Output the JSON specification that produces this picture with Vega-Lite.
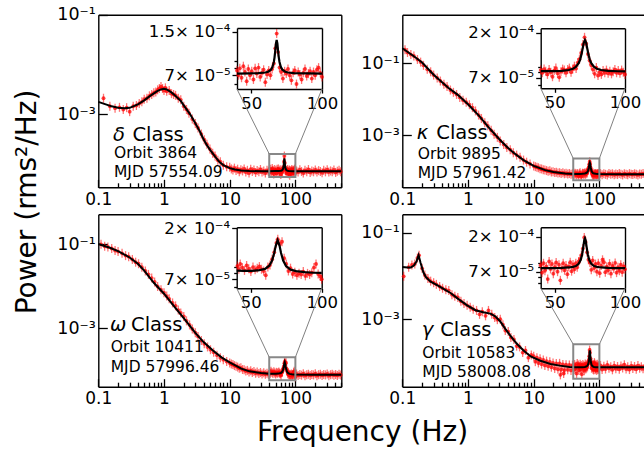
{
"$schema":"https://vega.github.io/schema/vega-lite/v6.json",
"width":644,"height":450,"autosize":"none","padding":0,
"config":{"view":{"stroke":null},"font":"DejaVu Sans","axis":{"grid":false,"domainColor":"black","domainWidth":1.4,"tickColor":"black","tickWidth":1.3,"labelColor":"black","labelFontSize":17,"labelFlush":false,"labelOverlap":false,"labelBound":false,"titleColor":"black","titleFontWeight":"normal"}},
"resolve":{"scale":{"x":"independent","y":"independent"},"axis":{"x":"independent","y":"independent"}},
"datasets":{
"d1":[{"f":0.12,"p":2.1e-3},{"f":0.15,"p":1.45e-3},{"f":0.18,"p":1.33e-3},{"f":0.21,"p":1.38e-3},{"f":0.24,"p":1.25e-3},{"f":0.27,"p":1.36e-3},{"f":0.3,"p":1.13e-3},{"f":0.34,"p":1.45e-3},{"f":0.38,"p":1.5e-3},{"f":0.42,"p":1.65e-3},{"f":0.46,"p":1.78e-3},{"f":0.5,"p":2.0e-3},{"f":0.55,"p":2.1e-3},{"f":0.6,"p":2.35e-3},{"f":0.65,"p":2.5e-3},{"f":0.7,"p":2.7e-3},{"f":0.75,"p":2.8e-3},{"f":0.8,"p":3.1e-3},{"f":0.85,"p":3.3e-3},{"f":0.9,"p":3.6e-3},{"f":0.95,"p":3.3e-3},{"f":1.0,"p":3.0e-3},{"f":1.05,"p":3.4e-3},{"f":1.1,"p":2.9e-3},{"f":1.2,"p":3.0e-3},{"f":1.3,"p":2.6e-3},{"f":1.4,"p":2.5e-3},{"f":1.5,"p":2.4e-3},{"f":1.65,"p":2.1e-3},{"f":1.8,"p":1.95e-3},{"f":2.0,"p":1.45e-3},{"f":2.2,"p":1.25e-3},{"f":2.4,"p":1.05e-3},{"f":2.7,"p":8.0e-4},{"f":3.0,"p":6.5e-4},{"f":3.3,"p":5.3e-4},{"f":3.7,"p":4.0e-4},{"f":4.1,"p":3.1e-4},{"f":4.5,"p":2.5e-4},{"f":5.0,"p":2.0e-4},{"f":5.5,"p":1.65e-4},{"f":6.0,"p":1.45e-4},{"f":6.6,"p":1.2e-4},{"f":7.2,"p":1.12e-4},{"f":8.0,"p":9.5e-5},{"f":9.0,"p":8.8e-5},
{"f":10,"p":8.6e-5},{"f":10.6,"p":8.0e-5},{"f":11.2,"p":7.6e-5},{"f":11.8,"p":8.3e-5},{"f":12.5,"p":7.4e-5},{"f":13.2,"p":7.9e-5},{"f":14,"p":7.0e-5},{"f":14.8,"p":7.7e-5},{"f":15.7,"p":7.3e-5},{"f":16.6,"p":8.0e-5},{"f":17.6,"p":6.9e-5},{"f":18.6,"p":7.5e-5},{"f":19.7,"p":6.6e-5},{"f":20.9,"p":7.9e-5},{"f":22.1,"p":7.1e-5},{"f":23.4,"p":7.6e-5},{"f":24.8,"p":6.8e-5},{"f":26.2,"p":7.4e-5},{"f":27.8,"p":7.0e-5},{"f":29.4,"p":7.8e-5},{"f":31.1,"p":6.9e-5},{"f":33,"p":7.3e-5},{"f":34.9,"p":6.6e-5},{"f":37,"p":7.5e-5},{"f":39,"p":7.1e-5},
{"f":40,"p":7.6e-5},{"f":41,"p":7.0e-5},{"f":42,"p":7.9e-5},{"f":43.2,"p":6.7e-5},{"f":44.5,"p":8.2e-5},{"f":45.6,"p":7.4e-5},{"f":46.8,"p":6.3e-5},{"f":48,"p":7.8e-5},{"f":49.2,"p":7.0e-5},{"f":50.4,"p":7.5e-5},{"f":51.6,"p":6.5e-5},{"f":52.8,"p":7.9e-5},{"f":54,"p":7.2e-5},{"f":55.2,"p":8.0e-5},{"f":56.4,"p":6.8e-5},{"f":57.6,"p":7.3e-5},{"f":58.8,"p":7.7e-5},{"f":60,"p":6.2e-5},{"f":61.2,"p":7.1e-5},{"f":62.4,"p":7.6e-5},{"f":63.6,"p":7.0e-5},{"f":64.8,"p":7.8e-5},{"f":66,"p":8.6e-5},{"f":67,"p":1.12e-4},{"f":68,"p":1.45e-4},{"f":69,"p":1.05e-4},{"f":70,"p":8.0e-5},{"f":71.2,"p":7.4e-5},{"f":72.4,"p":6.6e-5},{"f":73.6,"p":7.5e-5},{"f":74.8,"p":7.2e-5},{"f":76,"p":7.8e-5},{"f":77.2,"p":7.0e-5},{"f":78.4,"p":6.4e-5},{"f":79.6,"p":7.3e-5},{"f":80.8,"p":7.6e-5},{"f":82,"p":6.0e-5},{"f":83.2,"p":7.4e-5},{"f":84.4,"p":7.1e-5},{"f":85.6,"p":6.5e-5},{"f":86.8,"p":7.3e-5},{"f":88,"p":7.8e-5},{"f":89.2,"p":6.9e-5},{"f":90.4,"p":7.2e-5},{"f":91.6,"p":7.5e-5},{"f":92.8,"p":6.6e-5},{"f":94,"p":7.4e-5},{"f":95.2,"p":7.0e-5},{"f":96.4,"p":7.7e-5},{"f":97.6,"p":8.0e-5},{"f":98.8,"p":7.3e-5},{"f":100,"p":6.8e-5},
{"f":104,"p":7.3e-5},{"f":110,"p":6.9e-5},{"f":117,"p":7.7e-5},{"f":124,"p":7.1e-5},{"f":132,"p":6.6e-5},{"f":140,"p":7.5e-5},{"f":149,"p":7.0e-5},{"f":158,"p":7.8e-5},{"f":168,"p":6.8e-5},{"f":178,"p":7.3e-5},{"f":189,"p":7.0e-5},{"f":201,"p":7.6e-5},{"f":213,"p":6.9e-5},{"f":226,"p":7.4e-5},{"f":240,"p":7.1e-5},{"f":255,"p":6.7e-5},{"f":270,"p":7.5e-5},{"f":287,"p":7.0e-5},{"f":305,"p":7.7e-5},{"f":323,"p":6.9e-5},{"f":343,"p":7.3e-5},{"f":364,"p":7.0e-5},{"f":386,"p":7.6e-5},{"f":410,"p":6.8e-5},{"f":435,"p":7.2e-5},{"f":462,"p":7.5e-5},{"f":490,"p":7.0e-5}],
"m1":[{"f":0.1,"p":1.78e-3},{"f":0.13,"p":1.585e-3},{"f":0.16,"p":1.445e-3},{"f":0.2,"p":1.35e-3},{"f":0.25,"p":1.32e-3},{"f":0.3,"p":1.35e-3},{"f":0.4,"p":1.585e-3},{"f":0.5,"p":1.905e-3},{"f":0.6,"p":2.29e-3},{"f":0.7,"p":2.63e-3},{"f":0.8,"p":2.95e-3},{"f":0.9,"p":3.16e-3},{"f":1.0,"p":3.24e-3},{"f":1.1,"p":3.16e-3},{"f":1.3,"p":2.75e-3},{"f":1.5,"p":2.34e-3},{"f":1.8,"p":1.86e-3},{"f":2.0,"p":1.51e-3},{"f":2.5,"p":1.0e-3},{"f":3.0,"p":6.6e-4},{"f":3.5,"p":4.57e-4},{"f":4.0,"p":3.16e-4},{"f":4.5,"p":2.4e-4},{"f":5.0,"p":1.95e-4},{"f":6.0,"p":1.41e-4},{"f":7.0,"p":1.1e-4},{"f":8.0,"p":9.55e-5},{"f":10,"p":8.3e-5},{"f":12,"p":7.76e-5},{"f":15,"p":7.41e-5},{"f":20,"p":7.24e-5},{"f":30,"p":7.21e-5},{"f":40,"p":7.21e-5},{"f":50,"p":7.23e-5},{"f":55,"p":7.25e-5},{"f":60,"p":7.34e-5},{"f":62,"p":7.44e-5},{"f":64,"p":7.72e-5},{"f":65,"p":8.06e-5},{"f":66,"p":8.83e-5},{"f":66.5,"p":9.58e-5},{"f":67,"p":1.074e-4},{"f":67.5,"p":1.22e-4},{"f":68,"p":1.3e-4},{"f":68.5,"p":1.22e-4},{"f":69,"p":1.074e-4},{"f":69.5,"p":9.58e-5},{"f":70,"p":8.83e-5},{"f":71,"p":8.06e-5},{"f":72,"p":7.72e-5},{"f":74,"p":7.44e-5},{"f":76,"p":7.34e-5},{"f":80,"p":7.26e-5},{"f":90,"p":7.22e-5},{"f":100,"p":7.21e-5},{"f":200,"p":7.2e-5},{"f":500,"p":7.2e-5}],
"c1":[{"fa":40,"pa":1.6e-4,"fb":12.9,"pb":3.22e-3},{"fa":100,"pa":1.6e-4,"fb":254,"pb":3.22e-3}],
"d2":[{"f":0.11,"p":0.24},{"f":0.12,"p":0.2},{"f":0.135,"p":0.175},{"f":0.15,"p":0.16},{"f":0.17,"p":0.128},{"f":0.19,"p":0.108},{"f":0.21,"p":0.088},{"f":0.24,"p":0.068},{"f":0.27,"p":0.058},{"f":0.3,"p":0.047},{"f":0.34,"p":0.039},{"f":0.38,"p":0.032},{"f":0.43,"p":0.026},{"f":0.48,"p":0.0225},{"f":0.54,"p":0.018},{"f":0.6,"p":0.0155},{"f":0.67,"p":0.0135},{"f":0.75,"p":0.0112},{"f":0.84,"p":0.0094},{"f":0.94,"p":0.0082},{"f":1.05,"p":0.007},{"f":1.17,"p":0.0058},{"f":1.3,"p":0.0047},{"f":1.45,"p":0.0036},{"f":1.6,"p":0.0029},{"f":1.8,"p":0.0022},{"f":2.0,"p":0.0018},{"f":2.25,"p":0.00135},{"f":2.5,"p":0.00105},{"f":2.8,"p":8.6e-4},{"f":3.1,"p":6.8e-4},{"f":3.5,"p":5.4e-4},{"f":3.9,"p":4.5e-4},{"f":4.4,"p":3.9e-4},{"f":4.9,"p":3.2e-4},{"f":5.5,"p":2.75e-4},{"f":6.2,"p":2.4e-4},{"f":7.0,"p":2.0e-4},{"f":7.8,"p":1.75e-4},{"f":8.8,"p":1.55e-4},
{"f":10,"p":1.36e-4},{"f":10.6,"p":1.31e-4},{"f":11.2,"p":1.27e-4},{"f":11.8,"p":1.22e-4},{"f":12.5,"p":1.15e-4},{"f":13.2,"p":1.13e-4},{"f":14,"p":1.07e-4},{"f":14.8,"p":1.06e-4},{"f":15.7,"p":1.02e-4},{"f":16.6,"p":9.8e-5},{"f":17.6,"p":1.0e-4},{"f":18.6,"p":9.3e-5},{"f":19.7,"p":9.4e-5},{"f":20.9,"p":9.0e-5},{"f":22.1,"p":9.2e-5},{"f":23.4,"p":8.7e-5},{"f":24.8,"p":8.9e-5},{"f":26.2,"p":8.5e-5},{"f":27.8,"p":8.8e-5},{"f":29.4,"p":8.3e-5},{"f":31.1,"p":8.6e-5},{"f":33,"p":8.2e-5},{"f":34.9,"p":8.5e-5},{"f":37,"p":8.0e-5},{"f":39,"p":8.3e-5},
{"f":40,"p":8.4e-5},{"f":41.2,"p":7.9e-5},{"f":42.4,"p":8.6e-5},{"f":43.6,"p":8.2e-5},{"f":44.8,"p":7.6e-5},{"f":46,"p":8.5e-5},{"f":47.2,"p":8.0e-5},{"f":48.4,"p":7.2e-5},{"f":49.6,"p":8.3e-5},{"f":50.8,"p":8.8e-5},{"f":52,"p":7.8e-5},{"f":53.2,"p":7.1e-5},{"f":54.4,"p":8.1e-5},{"f":55.6,"p":8.6e-5},{"f":56.8,"p":8.4e-5},{"f":58,"p":7.9e-5},{"f":59.2,"p":8.5e-5},{"f":60.4,"p":8.8e-5},{"f":61.6,"p":8.0e-5},{"f":62.8,"p":8.6e-5},{"f":64,"p":9.2e-5},{"f":65.2,"p":8.7e-5},{"f":66.4,"p":1.0e-4},{"f":67.6,"p":1.08e-4},{"f":68.8,"p":1.25e-4},{"f":70,"p":1.52e-4},{"f":71.2,"p":1.8e-4},{"f":72.4,"p":1.55e-4},{"f":73.6,"p":1.22e-4},{"f":74.8,"p":1.05e-4},{"f":76,"p":9.4e-5},{"f":77.2,"p":8.5e-5},{"f":78.4,"p":7.7e-5},{"f":79.6,"p":8.9e-5},{"f":80.8,"p":7.4e-5},{"f":82,"p":8.0e-5},{"f":83.2,"p":7.6e-5},{"f":84.4,"p":8.3e-5},{"f":85.6,"p":7.9e-5},{"f":86.8,"p":8.4e-5},{"f":88,"p":7.8e-5},{"f":89.2,"p":8.2e-5},{"f":90.4,"p":7.7e-5},{"f":91.6,"p":8.1e-5},{"f":92.8,"p":8.5e-5},{"f":94,"p":7.9e-5},{"f":95.2,"p":8.3e-5},{"f":96.4,"p":7.8e-5},{"f":97.6,"p":8.4e-5},{"f":98.8,"p":8.0e-5},{"f":100,"p":7.6e-5},
{"f":104,"p":8.4e-5},{"f":110,"p":7.8e-5},{"f":117,"p":8.3e-5},{"f":124,"p":8.0e-5},{"f":132,"p":7.7e-5},{"f":140,"p":8.5e-5},{"f":149,"p":8.0e-5},{"f":158,"p":8.3e-5},{"f":168,"p":7.8e-5},{"f":178,"p":8.2e-5},{"f":189,"p":7.9e-5},{"f":201,"p":8.4e-5},{"f":213,"p":8.0e-5},{"f":226,"p":7.7e-5},{"f":240,"p":8.3e-5},{"f":255,"p":8.1e-5},{"f":270,"p":7.8e-5},{"f":287,"p":8.4e-5},{"f":305,"p":8.0e-5},{"f":323,"p":7.9e-5},{"f":343,"p":8.3e-5},{"f":364,"p":8.0e-5},{"f":386,"p":7.7e-5},{"f":410,"p":8.2e-5},{"f":435,"p":8.0e-5},{"f":462,"p":8.4e-5},{"f":490,"p":7.9e-5}],
"m2":[{"f":0.1,"p":0.263},{"f":0.15,"p":0.158},{"f":0.2,"p":0.105},{"f":0.3,"p":0.0479},{"f":0.5,"p":0.0209},{"f":0.7,"p":0.0132},{"f":1.0,"p":7.2e-3},{"f":1.5,"p":3.3e-3},{"f":2.0,"p":1.74e-3},{"f":3.0,"p":7.6e-4},{"f":4.0,"p":4.47e-4},{"f":5.0,"p":3.16e-4},{"f":7.0,"p":2.0e-4},{"f":10,"p":1.38e-4},{"f":15,"p":1.05e-4},{"f":20,"p":9.3e-5},{"f":30,"p":8.5e-5},{"f":40,"p":8.2e-5},{"f":50,"p":8.2e-5},{"f":55,"p":8.26e-5},{"f":60,"p":8.42e-5},{"f":63,"p":8.68e-5},{"f":65,"p":9.04e-5},{"f":67,"p":9.86e-5},{"f":68,"p":1.067e-4},{"f":69,"p":1.204e-4},{"f":70,"p":1.42e-4},{"f":70.7,"p":1.59e-4},{"f":71.5,"p":1.69e-4},{"f":72.3,"p":1.59e-4},{"f":73,"p":1.42e-4},{"f":74,"p":1.204e-4},{"f":75,"p":1.067e-4},{"f":76,"p":9.86e-5},{"f":78,"p":9.04e-5},{"f":80,"p":8.68e-5},{"f":83,"p":8.42e-5},{"f":88,"p":8.26e-5},{"f":95,"p":8.18e-5},{"f":100,"p":8.15e-5},{"f":200,"p":8.1e-5},{"f":500,"p":8.1e-5}],
"c2":[{"fa":40,"pa":2.22e-4,"fb":12.8,"pb":0.0201},{"fa":100,"pa":2.22e-4,"fb":245,"pb":0.0201}],
"d3":[{"f":0.11,"p":0.098},{"f":0.125,"p":0.088},{"f":0.14,"p":0.085},{"f":0.16,"p":0.078},{"f":0.18,"p":0.07},{"f":0.2,"p":0.066},{"f":0.23,"p":0.06},{"f":0.26,"p":0.053},{"f":0.29,"p":0.05},{"f":0.33,"p":0.043},{"f":0.37,"p":0.037},{"f":0.41,"p":0.034},{"f":0.46,"p":0.028},{"f":0.52,"p":0.023},{"f":0.58,"p":0.019},{"f":0.65,"p":0.0155},{"f":0.72,"p":0.0125},{"f":0.8,"p":0.0098},{"f":0.9,"p":0.0082},{"f":1.0,"p":0.007},{"f":1.1,"p":0.0058},{"f":1.2,"p":0.005},{"f":1.35,"p":0.004},{"f":1.5,"p":0.0034},{"f":1.65,"p":0.0027},{"f":1.8,"p":0.0023},{"f":2.0,"p":0.0019},{"f":2.2,"p":0.0015},{"f":2.45,"p":0.0012},{"f":2.7,"p":9.6e-4},{"f":3.0,"p":7.8e-4},{"f":3.3,"p":6.4e-4},{"f":3.7,"p":5.1e-4},{"f":4.1,"p":4.3e-4},{"f":4.6,"p":3.6e-4},{"f":5.1,"p":3.1e-4},{"f":5.7,"p":2.7e-4},{"f":6.4,"p":2.3e-4},{"f":7.2,"p":2.0e-4},{"f":8.0,"p":1.8e-4},{"f":9.0,"p":1.62e-4},
{"f":10,"p":1.5e-4},{"f":10.6,"p":1.42e-4},{"f":11.2,"p":1.38e-4},{"f":11.8,"p":1.3e-4},{"f":12.5,"p":1.26e-4},{"f":13.2,"p":1.2e-4},{"f":14,"p":1.12e-4},{"f":14.8,"p":1.15e-4},{"f":15.7,"p":1.05e-4},{"f":16.6,"p":1.03e-4},{"f":17.6,"p":9.7e-5},{"f":18.6,"p":1.0e-4},{"f":19.7,"p":9.2e-5},{"f":20.9,"p":9.8e-5},{"f":22.1,"p":8.9e-5},{"f":23.4,"p":9.4e-5},{"f":24.8,"p":8.6e-5},{"f":26.2,"p":9.1e-5},{"f":27.8,"p":8.4e-5},{"f":29.4,"p":8.9e-5},{"f":31.1,"p":8.2e-5},{"f":33,"p":8.8e-5},{"f":34.9,"p":8.1e-5},{"f":37,"p":8.6e-5},{"f":39,"p":8.0e-5},
{"f":40.5,"p":9.2e-5},{"f":41.5,"p":8.6e-5},{"f":42.5,"p":9.6e-5},{"f":44,"p":8.9e-5},{"f":45.5,"p":8.4e-5},{"f":47,"p":9.3e-5},{"f":48.5,"p":8.7e-5},{"f":50,"p":8.2e-5},{"f":51.5,"p":9.0e-5},{"f":53,"p":8.5e-5},{"f":54.5,"p":8.8e-5},{"f":56,"p":9.1e-5},{"f":57.5,"p":8.6e-5},{"f":59,"p":8.3e-5},{"f":60.5,"p":7.6e-5},{"f":62,"p":9.0e-5},{"f":63.5,"p":9.4e-5},{"f":65,"p":1.06e-4},{"f":66.5,"p":1.22e-4},{"f":68,"p":1.48e-4},{"f":69,"p":1.6e-4},{"f":70.5,"p":1.45e-4},{"f":72,"p":1.52e-4},{"f":73.5,"p":1.08e-4},{"f":75,"p":9.6e-5},{"f":76.5,"p":8.3e-5},{"f":78,"p":8.8e-5},{"f":79.5,"p":7.8e-5},{"f":81,"p":8.1e-5},{"f":82.5,"p":7.6e-5},{"f":84,"p":7.9e-5},{"f":85.5,"p":7.7e-5},{"f":87,"p":8.2e-5},{"f":88.5,"p":7.5e-5},{"f":90,"p":7.9e-5},{"f":91.5,"p":7.7e-5},{"f":93,"p":8.0e-5},{"f":94.5,"p":8.9e-5},{"f":96,"p":9.6e-5},{"f":97.5,"p":7.8e-5},{"f":99,"p":7.4e-5},{"f":100,"p":7.0e-5},
{"f":104,"p":8.2e-5},{"f":110,"p":7.6e-5},{"f":117,"p":8.0e-5},{"f":124,"p":7.7e-5},{"f":132,"p":8.3e-5},{"f":140,"p":7.5e-5},{"f":149,"p":7.9e-5},{"f":158,"p":8.1e-5},{"f":168,"p":7.6e-5},{"f":178,"p":8.0e-5},{"f":189,"p":7.8e-5},{"f":201,"p":8.3e-5},{"f":213,"p":7.5e-5},{"f":226,"p":7.9e-5},{"f":240,"p":8.1e-5},{"f":255,"p":7.6e-5},{"f":270,"p":8.0e-5},{"f":287,"p":7.8e-5},{"f":305,"p":8.2e-5},{"f":323,"p":7.5e-5},{"f":343,"p":7.9e-5},{"f":364,"p":8.1e-5},{"f":386,"p":7.7e-5},{"f":410,"p":8.0e-5},{"f":435,"p":7.6e-5},{"f":462,"p":8.1e-5},{"f":490,"p":7.8e-5}],
"m3":[{"f":0.1,"p":0.1},{"f":0.15,"p":0.0813},{"f":0.2,"p":0.0676},{"f":0.3,"p":0.0479},{"f":0.4,"p":0.0339},{"f":0.5,"p":0.0234},{"f":0.7,"p":0.012},{"f":1.0,"p":6.6e-3},{"f":1.5,"p":3.0e-3},{"f":2.0,"p":1.74e-3},{"f":3.0,"p":7.8e-4},{"f":4.0,"p":4.7e-4},{"f":5.5,"p":3.0e-4},{"f":7.5,"p":2.04e-4},{"f":10,"p":1.55e-4},{"f":15,"p":1.1e-4},{"f":20,"p":9.5e-5},{"f":30,"p":8.7e-5},{"f":40,"p":8.36e-5},{"f":45,"p":8.33e-5},{"f":50,"p":8.33e-5},{"f":55,"p":8.39e-5},{"f":60,"p":8.67e-5},{"f":63,"p":9.26e-5},{"f":65,"p":1.03e-4},{"f":66.5,"p":1.206e-4},{"f":67.5,"p":1.39e-4},{"f":68.9,"p":1.57e-4},{"f":70.3,"p":1.39e-4},{"f":71.3,"p":1.206e-4},{"f":72.8,"p":1.03e-4},{"f":74.8,"p":9.2e-5},{"f":78,"p":8.53e-5},{"f":82,"p":8.27e-5},{"f":88,"p":8.1e-5},{"f":94,"p":8.0e-5},{"f":100,"p":7.97e-5},{"f":200,"p":7.9e-5},{"f":500,"p":7.9e-5}],
"c3":[{"fa":40,"pa":2.05e-4,"fb":12.8,"pb":8.9e-3},{"fa":100,"pa":2.05e-4,"fb":251,"pb":8.9e-3}],
"d4":[{"f":0.105,"p":0.0098},{"f":0.125,"p":0.016},{"f":0.14,"p":0.018},{"f":0.155,"p":0.019},{"f":0.17,"p":0.026},{"f":0.18,"p":0.03},{"f":0.2,"p":0.015},{"f":0.22,"p":0.0105},{"f":0.245,"p":0.0088},{"f":0.27,"p":0.0076},{"f":0.3,"p":0.007},{"f":0.33,"p":0.0064},{"f":0.37,"p":0.0057},{"f":0.41,"p":0.0052},{"f":0.46,"p":0.0048},{"f":0.51,"p":0.0046},{"f":0.57,"p":0.0037},{"f":0.63,"p":0.0034},{"f":0.7,"p":0.0032},{"f":0.78,"p":0.0026},{"f":0.87,"p":0.0023},{"f":0.97,"p":0.0021},{"f":1.08,"p":0.0019},{"f":1.2,"p":0.0017},{"f":1.35,"p":0.0016},{"f":1.5,"p":0.0013},{"f":1.65,"p":0.0015},{"f":1.85,"p":0.0012},{"f":2.05,"p":0.0016},{"f":2.3,"p":0.0013},{"f":2.55,"p":0.0011},{"f":2.8,"p":9.8e-4},{"f":3.1,"p":1.0e-3},{"f":3.4,"p":7.5e-4},{"f":3.7,"p":5.5e-4},{"f":4.1,"p":5.2e-4},{"f":4.5,"p":3.8e-4},{"f":5.0,"p":3.4e-4},{"f":5.5,"p":2.4e-4},{"f":6.1,"p":2.3e-4},{"f":6.8,"p":1.7e-4},{"f":7.5,"p":1.9e-4},{"f":8.3,"p":1.3e-4},{"f":9.2,"p":1.5e-4},
{"f":10,"p":1.4e-4},{"f":10.6,"p":1.05e-4},{"f":11.2,"p":1.3e-4},{"f":11.8,"p":9.8e-5},{"f":12.5,"p":1.22e-4},{"f":13.2,"p":9.2e-5},{"f":14,"p":1.15e-4},{"f":14.8,"p":8.6e-5},{"f":15.7,"p":1.08e-4},{"f":16.6,"p":8.2e-5},{"f":17.6,"p":1.04e-4},{"f":18.6,"p":7.8e-5},{"f":19.7,"p":9.8e-5},{"f":20.9,"p":7.3e-5},{"f":22.1,"p":9.5e-5},{"f":23.4,"p":7.0e-5},{"f":24.8,"p":9.6e-5},{"f":25.5,"p":5.2e-5},{"f":26.2,"p":6.9e-5},{"f":27.8,"p":9.0e-5},{"f":28.6,"p":5.6e-5},{"f":29.4,"p":6.7e-5},{"f":31.1,"p":8.9e-5},{"f":33,"p":6.8e-5},{"f":34.9,"p":8.8e-5},{"f":37,"p":6.6e-5},{"f":39,"p":8.7e-5},
{"f":40,"p":8.5e-5},{"f":41,"p":6.8e-5},{"f":42,"p":9.0e-5},{"f":43,"p":7.2e-5},{"f":44,"p":8.2e-5},{"f":45,"p":5.6e-5},{"f":46,"p":9.5e-5},{"f":47,"p":7.6e-5},{"f":48,"p":8.8e-5},{"f":49,"p":6.6e-5},{"f":50,"p":8.0e-5},{"f":51,"p":9.2e-5},{"f":52,"p":7.0e-5},{"f":53,"p":8.6e-5},{"f":54,"p":5.4e-5},{"f":55,"p":7.8e-5},{"f":56,"p":9.0e-5},{"f":57,"p":7.3e-5},{"f":58,"p":8.4e-5},{"f":59,"p":6.5e-5},{"f":60,"p":8.1e-5},{"f":61,"p":9.3e-5},{"f":62,"p":7.1e-5},{"f":63,"p":8.7e-5},{"f":64,"p":7.5e-5},{"f":65,"p":9.0e-5},{"f":66,"p":8.0e-5},{"f":67,"p":9.5e-5},{"f":68,"p":1.02e-4},{"f":69,"p":1.15e-4},{"f":70,"p":1.4e-4},{"f":71,"p":1.95e-4},{"f":72,"p":1.7e-4},{"f":73,"p":1.25e-4},{"f":74,"p":1.0e-4},{"f":75,"p":9.2e-5},{"f":76,"p":7.4e-5},{"f":77,"p":9.8e-5},{"f":78,"p":7.8e-5},{"f":79,"p":8.8e-5},{"f":80,"p":7.0e-5},{"f":81,"p":9.0e-5},{"f":82,"p":6.7e-5},{"f":83,"p":8.4e-5},{"f":84,"p":1.0e-4},{"f":85,"p":9.3e-5},{"f":86,"p":6.9e-5},{"f":87,"p":8.1e-5},{"f":88,"p":7.3e-5},{"f":89,"p":8.9e-5},{"f":90,"p":6.6e-5},{"f":91,"p":8.3e-5},{"f":92,"p":7.7e-5},{"f":93,"p":9.1e-5},{"f":94,"p":6.8e-5},{"f":95,"p":8.0e-5},{"f":96,"p":7.2e-5},{"f":97,"p":8.6e-5},{"f":98,"p":6.9e-5},{"f":99,"p":8.2e-5},{"f":100,"p":7.5e-5},
{"f":104,"p":8.6e-5},{"f":110,"p":6.9e-5},{"f":117,"p":8.2e-5},{"f":124,"p":7.1e-5},{"f":132,"p":8.8e-5},{"f":140,"p":7.4e-5},{"f":149,"p":8.0e-5},{"f":158,"p":6.8e-5},{"f":168,"p":8.5e-5},{"f":178,"p":7.2e-5},{"f":189,"p":8.1e-5},{"f":201,"p":7.0e-5},{"f":213,"p":8.3e-5},{"f":226,"p":7.5e-5},{"f":240,"p":8.9e-5},{"f":255,"p":7.1e-5},{"f":270,"p":8.0e-5},{"f":287,"p":6.9e-5},{"f":305,"p":8.4e-5},{"f":323,"p":7.3e-5},{"f":343,"p":8.1e-5},{"f":364,"p":7.0e-5},{"f":386,"p":8.5e-5},{"f":410,"p":7.4e-5},{"f":435,"p":8.0e-5},{"f":462,"p":7.2e-5},{"f":490,"p":8.2e-5}],
"m4":[{"f":0.1,"p":0.0162},{"f":0.12,"p":0.0158},{"f":0.135,"p":0.0158},{"f":0.15,"p":0.0174},{"f":0.165,"p":0.0219},{"f":0.177,"p":0.0302},{"f":0.19,"p":0.02},{"f":0.21,"p":0.012},{"f":0.23,"p":9.3e-3},{"f":0.27,"p":7.4e-3},{"f":0.35,"p":6.0e-3},{"f":0.45,"p":4.8e-3},{"f":0.55,"p":4.0e-3},{"f":0.7,"p":3.0e-3},{"f":0.97,"p":2.1e-3},{"f":1.3,"p":1.62e-3},{"f":1.7,"p":1.45e-3},{"f":2.2,"p":1.35e-3},{"f":2.6,"p":1.17e-3},{"f":3.1,"p":8.9e-4},{"f":3.7,"p":6.0e-4},{"f":4.4,"p":4.2e-4},{"f":5.5,"p":2.75e-4},{"f":7.0,"p":1.9e-4},{"f":9.0,"p":1.38e-4},{"f":12.6,"p":1.1e-4},{"f":18,"p":9.3e-5},{"f":25,"p":8.5e-5},{"f":35,"p":7.9e-5},{"f":40,"p":7.8e-5},{"f":50,"p":7.8e-5},{"f":55,"p":7.84e-5},{"f":60,"p":7.94e-5},{"f":63,"p":8.1e-5},{"f":65,"p":8.3e-5},{"f":67,"p":8.87e-5},{"f":68.5,"p":1.0e-4},{"f":69.5,"p":1.18e-4},{"f":70.3,"p":1.46e-4},{"f":71,"p":1.79e-4},{"f":71.5,"p":1.9e-4},{"f":72,"p":1.79e-4},{"f":72.7,"p":1.46e-4},{"f":73.5,"p":1.18e-4},{"f":74.5,"p":1.0e-4},{"f":76,"p":8.87e-5},{"f":78,"p":8.3e-5},{"f":80,"p":8.1e-5},{"f":83,"p":7.94e-5},{"f":88,"p":7.84e-5},{"f":95,"p":7.8e-5},{"f":100,"p":7.78e-5},{"f":200,"p":7.75e-5},{"f":500,"p":7.75e-5}],
"c4":[{"fa":40,"pa":2.65e-4,"fb":12.8,"pb":5.2e-3},{"fa":100,"pa":2.65e-4,"fb":245,"pb":5.2e-3}]
},
"layer":[
{"data":{"name":"d1"},"mark":{"type":"tick","orient":"vertical","size":9,"thickness":1.3,"color":"#ff0000","opacity":0.55},"encoding":{"x":{"field":"f","type":"quantitative","scale":{"type":"log","domain":[0.1,500],"range":[98.3,341.3],"nice":false},"axis":{"orient":"bottom","offset":-262.7,"values":[0.1,1,10,100],"format":"~g","tickSize":-8,"labelPadding":12,"title":null}},"y":{"field":"p","type":"quantitative","scale":{"type":"log","domain":[3.42e-5,0.1],"range":[187.3,14.7],"nice":false},"axis":{"orient":"left","offset":-98.3,"values":[0.1,0.001],"labelExpr":"datum.value > 0.01 ? '10⁻¹' : '10⁻³'","labelFontSize":17.5,"tickSize":-9,"labelPadding":12,"title":"Power (rms²/Hz)","titleX":-63,"titleY":201.5,"titleAngle":270,"titleAlign":"center","titleBaseline":"alphabetic","titleFontSize":28}}}},
{"data":{"name":"d1"},"mark":{"type":"circle","size":15,"color":"#ff0000","opacity":0.75},"encoding":{"x":{"field":"f","type":"quantitative","scale":{"type":"log","domain":[0.1,500],"range":[98.3,341.3],"nice":false},"axis":{"orient":"bottom","offset":-262.7,"values":[0.2,0.3,0.4,0.5,0.6,0.7,0.8,0.9,2,3,4,5,6,7,8,9,20,30,40,50,60,70,80,90,200,300,400,500],"labels":false,"domain":false,"tickSize":-4.5,"title":null}},"y":{"field":"p","type":"quantitative","scale":{"type":"log","domain":[3.42e-5,0.1],"range":[187.3,14.7],"nice":false},"axis":{"orient":"right","offset":-302.7,"ticks":false,"labels":false,"title":null}}}},
{"data":{"name":"m1"},"mark":{"type":"line","color":"black","strokeWidth":2},"encoding":{"x":{"field":"f","type":"quantitative","scale":{"type":"log","domain":[0.1,500],"range":[98.3,341.3],"nice":false},"axis":{"orient":"top","offset":-14.7,"ticks":false,"labels":false,"title":null}},"y":{"field":"p","type":"quantitative","scale":{"type":"log","domain":[3.42e-5,0.1],"range":[187.3,14.7],"nice":false},"axis":null}}},
{"data":{"values":[{}]},"mark":{"type":"rect","fillOpacity":0,"stroke":"#888888","strokeWidth":2},"encoding":{"x":{"datum":40,"type":"quantitative","scale":{"type":"log","domain":[0.1,500],"range":[98.3,341.3],"nice":false},"axis":null},"x2":{"datum":100},"y":{"datum":5.5e-5,"type":"quantitative","scale":{"type":"log","domain":[3.42e-5,0.1],"range":[187.3,14.7],"nice":false},"axis":null},"y2":{"datum":1.6e-4}}},
{"data":{"name":"c1"},"mark":{"type":"rule","color":"#808080","strokeWidth":1},"encoding":{"x":{"field":"fa","type":"quantitative","scale":{"type":"log","domain":[0.1,500],"range":[98.3,341.3],"nice":false},"axis":null},"x2":{"field":"fb"},"y":{"field":"pa","type":"quantitative","scale":{"type":"log","domain":[3.42e-5,0.1],"range":[187.3,14.7],"nice":false},"axis":null},"y2":{"field":"pb"}}},
{"data":{"values":[{}]},"mark":{"type":"text","text":"δ","fontSize":19.5,"fontStyle":"italic","align":"left","baseline":"middle"},"encoding":{"x":{"datum":0.167,"type":"quantitative","scale":{"type":"log","domain":[0.1,500],"range":[98.3,341.3],"nice":false},"axis":null},"y":{"datum":3.84e-4,"type":"quantitative","scale":{"type":"log","domain":[3.42e-5,0.1],"range":[187.3,14.7],"nice":false},"axis":null}}},
{"data":{"values":[{}]},"mark":{"type":"text","text":"Class","fontSize":19.5,"dx":19.5,"align":"left","baseline":"middle"},"encoding":{"x":{"datum":0.167,"type":"quantitative","scale":{"type":"log","domain":[0.1,500],"range":[98.3,341.3],"nice":false},"axis":null},"y":{"datum":3.84e-4,"type":"quantitative","scale":{"type":"log","domain":[3.42e-5,0.1],"range":[187.3,14.7],"nice":false},"axis":null}}},
{"data":{"values":[{}]},"mark":{"type":"text","text":["Orbit 3864","MJD 57554.09"],"fontSize":15.5,"lineHeight":19,"align":"left","baseline":"middle"},"encoding":{"x":{"datum":0.173,"type":"quantitative","scale":{"type":"log","domain":[0.1,500],"range":[98.3,341.3],"nice":false},"axis":null},"y":{"datum":1.67e-4,"type":"quantitative","scale":{"type":"log","domain":[3.42e-5,0.1],"range":[187.3,14.7],"nice":false},"axis":null}}},
{"data":{"name":"d1"},"transform":[{"filter":"datum.f >= 40 && datum.f <= 100"}],"mark":{"type":"tick","orient":"vertical","size":9,"thickness":1.3,"color":"#ff0000","opacity":0.55},"encoding":{"x":{"field":"f","type":"quantitative","scale":{"type":"linear","domain":[40,100],"range":[237,322],"nice":false,"zero":false},"axis":{"orient":"bottom","offset":-361,"values":[50,100],"tickSize":4,"labelFontSize":16.5,"labelPadding":2,"title":null}},"y":{"field":"p","type":"quantitative","scale":{"type":"log","domain":[5.5e-5,1.6e-4],"range":[89,28],"nice":false},"axis":{"orient":"left","offset":-237,"values":[1.5e-4,7e-5],"labelExpr":"datum.value > 1.2e-4 ? '1.5× 10⁻⁴' : '7× 10⁻⁵'","tickSize":5,"labelFontSize":16.5,"labelPadding":2,"title":null}}}},
{"data":{"name":"d1"},"transform":[{"filter":"datum.f >= 40 && datum.f <= 100"}],"mark":{"type":"circle","size":15,"color":"#ff0000","opacity":0.75},"encoding":{"x":{"field":"f","type":"quantitative","scale":{"type":"linear","domain":[40,100],"range":[237,322],"nice":false,"zero":false},"axis":{"orient":"top","offset":-28,"ticks":false,"labels":false,"title":null}},"y":{"field":"p","type":"quantitative","scale":{"type":"log","domain":[5.5e-5,1.6e-4],"range":[89,28],"nice":false},"axis":{"orient":"left","offset":-237,"values":[6e-5,8e-5,9e-5],"labels":false,"domain":false,"tickSize":3,"title":null}}}},
{"data":{"name":"m1"},"transform":[{"filter":"datum.f >= 40 && datum.f <= 100"}],"mark":{"type":"line","color":"black","strokeWidth":2.2},"encoding":{"x":{"field":"f","type":"quantitative","scale":{"type":"linear","domain":[40,100],"range":[237,322],"nice":false,"zero":false},"axis":null},"y":{"field":"p","type":"quantitative","scale":{"type":"log","domain":[5.5e-5,1.6e-4],"range":[89,28],"nice":false},"axis":{"orient":"right","offset":-322,"ticks":false,"labels":false,"title":null}}}},

{"data":{"name":"d2"},"mark":{"type":"tick","orient":"vertical","size":9,"thickness":1.3,"color":"#ff0000","opacity":0.55},"encoding":{"x":{"field":"f","type":"quantitative","scale":{"type":"log","domain":[0.1,500],"range":[402.3,645.3],"nice":false},"axis":{"orient":"bottom","offset":-262.7,"values":[0.1,1,10,100],"format":"~g","tickSize":-8,"labelPadding":12,"title":null}},"y":{"field":"p","type":"quantitative","scale":{"type":"log","domain":[3.48e-5,2.27],"range":[187.3,14.7],"nice":false},"axis":{"orient":"left","offset":-402.3,"values":[0.1,0.001],"labelExpr":"datum.value > 0.01 ? '10⁻¹' : '10⁻³'","labelFontSize":17.5,"tickSize":-9,"labelPadding":12,"title":null}}}},
{"data":{"name":"d2"},"mark":{"type":"circle","size":15,"color":"#ff0000","opacity":0.75},"encoding":{"x":{"field":"f","type":"quantitative","scale":{"type":"log","domain":[0.1,500],"range":[402.3,645.3],"nice":false},"axis":{"orient":"bottom","offset":-262.7,"values":[0.2,0.3,0.4,0.5,0.6,0.7,0.8,0.9,2,3,4,5,6,7,8,9,20,30,40,50,60,70,80,90,200,300,400,500],"labels":false,"domain":false,"tickSize":-4.5,"title":null}},"y":{"field":"p","type":"quantitative","scale":{"type":"log","domain":[3.48e-5,2.27],"range":[187.3,14.7],"nice":false},"axis":null}}},
{"data":{"name":"m2"},"mark":{"type":"line","color":"black","strokeWidth":2},"encoding":{"x":{"field":"f","type":"quantitative","scale":{"type":"log","domain":[0.1,500],"range":[402.3,645.3],"nice":false},"axis":{"orient":"top","offset":-14.7,"ticks":false,"labels":false,"title":null}},"y":{"field":"p","type":"quantitative","scale":{"type":"log","domain":[3.48e-5,2.27],"range":[187.3,14.7],"nice":false},"axis":null}}},
{"data":{"values":[{}]},"mark":{"type":"rect","fillOpacity":0,"stroke":"#888888","strokeWidth":2},"encoding":{"x":{"datum":40,"type":"quantitative","scale":{"type":"log","domain":[0.1,500],"range":[402.3,645.3],"nice":false},"axis":null},"x2":{"datum":100},"y":{"datum":5.5e-5,"type":"quantitative","scale":{"type":"log","domain":[3.48e-5,2.27],"range":[187.3,14.7],"nice":false},"axis":null},"y2":{"datum":2.22e-4}}},
{"data":{"name":"c2"},"mark":{"type":"rule","color":"#808080","strokeWidth":1},"encoding":{"x":{"field":"fa","type":"quantitative","scale":{"type":"log","domain":[0.1,500],"range":[402.3,645.3],"nice":false},"axis":null},"x2":{"field":"fb"},"y":{"field":"pa","type":"quantitative","scale":{"type":"log","domain":[3.48e-5,2.27],"range":[187.3,14.7],"nice":false},"axis":null},"y2":{"field":"pb"}}},
{"data":{"values":[{}]},"mark":{"type":"text","text":"κ","fontSize":19.5,"fontStyle":"italic","align":"left","baseline":"middle"},"encoding":{"x":{"datum":0.166,"type":"quantitative","scale":{"type":"log","domain":[0.1,500],"range":[402.3,645.3],"nice":false},"axis":null},"y":{"datum":1.11e-3,"type":"quantitative","scale":{"type":"log","domain":[3.48e-5,2.27],"range":[187.3,14.7],"nice":false},"axis":null}}},
{"data":{"values":[{}]},"mark":{"type":"text","text":"Class","fontSize":19.5,"dx":19.5,"align":"left","baseline":"middle"},"encoding":{"x":{"datum":0.166,"type":"quantitative","scale":{"type":"log","domain":[0.1,500],"range":[402.3,645.3],"nice":false},"axis":null},"y":{"datum":1.11e-3,"type":"quantitative","scale":{"type":"log","domain":[3.48e-5,2.27],"range":[187.3,14.7],"nice":false},"axis":null}}},
{"data":{"values":[{}]},"mark":{"type":"text","text":["Orbit 9895","MJD 57961.42"],"fontSize":15.5,"lineHeight":18.5,"align":"left","baseline":"middle"},"encoding":{"x":{"datum":0.1716,"type":"quantitative","scale":{"type":"log","domain":[0.1,500],"range":[402.3,645.3],"nice":false},"axis":null},"y":{"datum":2.95e-4,"type":"quantitative","scale":{"type":"log","domain":[3.48e-5,2.27],"range":[187.3,14.7],"nice":false},"axis":null}}},
{"data":{"name":"d2"},"transform":[{"filter":"datum.f >= 40 && datum.f <= 100"}],"mark":{"type":"tick","orient":"vertical","size":9,"thickness":1.3,"color":"#ff0000","opacity":0.55},"encoding":{"x":{"field":"f","type":"quantitative","scale":{"type":"linear","domain":[40,100],"range":[540.7,625],"nice":false,"zero":false},"axis":{"orient":"bottom","offset":-361.7,"values":[50,100],"tickSize":4,"labelFontSize":16.5,"labelPadding":2,"title":null}},"y":{"field":"p","type":"quantitative","scale":{"type":"log","domain":[5.5e-5,2.22e-4],"range":[88.3,28.3],"nice":false},"axis":{"orient":"left","offset":-540.7,"values":[2e-4,7e-5],"labelExpr":"datum.value > 1.2e-4 ? '2× 10⁻⁴' : '7× 10⁻⁵'","tickSize":5,"labelFontSize":16.5,"labelPadding":2,"title":null}}}},
{"data":{"name":"d2"},"transform":[{"filter":"datum.f >= 40 && datum.f <= 100"}],"mark":{"type":"circle","size":15,"color":"#ff0000","opacity":0.75},"encoding":{"x":{"field":"f","type":"quantitative","scale":{"type":"linear","domain":[40,100],"range":[540.7,625],"nice":false,"zero":false},"axis":{"orient":"top","offset":-28.3,"ticks":false,"labels":false,"title":null}},"y":{"field":"p","type":"quantitative","scale":{"type":"log","domain":[5.5e-5,2.22e-4],"range":[88.3,28.3],"nice":false},"axis":{"orient":"left","offset":-540.7,"values":[6e-5,8e-5,9e-5],"labels":false,"domain":false,"tickSize":3,"title":null}}}},
{"data":{"name":"m2"},"transform":[{"filter":"datum.f >= 40 && datum.f <= 100"}],"mark":{"type":"line","color":"black","strokeWidth":2.2},"encoding":{"x":{"field":"f","type":"quantitative","scale":{"type":"linear","domain":[40,100],"range":[540.7,625],"nice":false,"zero":false},"axis":null},"y":{"field":"p","type":"quantitative","scale":{"type":"log","domain":[5.5e-5,2.22e-4],"range":[88.3,28.3],"nice":false},"axis":{"orient":"right","offset":-19,"ticks":false,"labels":false,"title":null}}}},

{"data":{"name":"d3"},"mark":{"type":"tick","orient":"vertical","size":9,"thickness":1.3,"color":"#ff0000","opacity":0.55},"encoding":{"x":{"field":"f","type":"quantitative","scale":{"type":"log","domain":[0.1,500],"range":[98.3,341.3],"nice":false},"axis":{"orient":"bottom","offset":-63.3,"values":[0.1,1,10,100],"format":"~g","tickSize":-8,"labelPadding":12,"title":"Frequency (Hz)","titleX":362,"titleY":54,"titleAlign":"center","titleBaseline":"alphabetic","titleFontSize":28}},"y":{"field":"p","type":"quantitative","scale":{"type":"log","domain":[4.1e-5,0.507],"range":[386.7,214.3],"nice":false},"axis":{"orient":"left","offset":-98.3,"values":[0.1,0.001],"labelExpr":"datum.value > 0.01 ? '10⁻¹' : '10⁻³'","labelFontSize":17.5,"tickSize":-9,"labelPadding":12,"title":null}}}},
{"data":{"name":"d3"},"mark":{"type":"circle","size":15,"color":"#ff0000","opacity":0.75},"encoding":{"x":{"field":"f","type":"quantitative","scale":{"type":"log","domain":[0.1,500],"range":[98.3,341.3],"nice":false},"axis":{"orient":"bottom","offset":-63.3,"values":[0.2,0.3,0.4,0.5,0.6,0.7,0.8,0.9,2,3,4,5,6,7,8,9,20,30,40,50,60,70,80,90,200,300,400,500],"labels":false,"domain":false,"tickSize":-4.5,"title":null}},"y":{"field":"p","type":"quantitative","scale":{"type":"log","domain":[4.1e-5,0.507],"range":[386.7,214.3],"nice":false},"axis":{"orient":"right","offset":-302.7,"ticks":false,"labels":false,"title":null}}}},
{"data":{"name":"m3"},"mark":{"type":"line","color":"black","strokeWidth":2},"encoding":{"x":{"field":"f","type":"quantitative","scale":{"type":"log","domain":[0.1,500],"range":[98.3,341.3],"nice":false},"axis":{"orient":"top","offset":-214.3,"ticks":false,"labels":false,"title":null}},"y":{"field":"p","type":"quantitative","scale":{"type":"log","domain":[4.1e-5,0.507],"range":[386.7,214.3],"nice":false},"axis":null}}},
{"data":{"values":[{}]},"mark":{"type":"rect","fillOpacity":0,"stroke":"#888888","strokeWidth":2},"encoding":{"x":{"datum":40,"type":"quantitative","scale":{"type":"log","domain":[0.1,500],"range":[98.3,341.3],"nice":false},"axis":null},"x2":{"datum":100},"y":{"datum":5.8e-5,"type":"quantitative","scale":{"type":"log","domain":[4.1e-5,0.507],"range":[386.7,214.3],"nice":false},"axis":null},"y2":{"datum":2.05e-4}}},
{"data":{"name":"c3"},"mark":{"type":"rule","color":"#808080","strokeWidth":1},"encoding":{"x":{"field":"fa","type":"quantitative","scale":{"type":"log","domain":[0.1,500],"range":[98.3,341.3],"nice":false},"axis":null},"x2":{"field":"fb"},"y":{"field":"pa","type":"quantitative","scale":{"type":"log","domain":[4.1e-5,0.507],"range":[386.7,214.3],"nice":false},"axis":null},"y2":{"field":"pb"}}},
{"data":{"values":[{}]},"mark":{"type":"text","text":"ω","fontSize":19.5,"fontStyle":"italic","align":"left","baseline":"middle"},"encoding":{"x":{"datum":0.151,"type":"quantitative","scale":{"type":"log","domain":[0.1,500],"range":[98.3,341.3],"nice":false},"axis":null},"y":{"datum":1.2e-3,"type":"quantitative","scale":{"type":"log","domain":[4.1e-5,0.507],"range":[386.7,214.3],"nice":false},"axis":null}}},
{"data":{"values":[{}]},"mark":{"type":"text","text":"Class","fontSize":19.5,"dx":21,"align":"left","baseline":"middle"},"encoding":{"x":{"datum":0.151,"type":"quantitative","scale":{"type":"log","domain":[0.1,500],"range":[98.3,341.3],"nice":false},"axis":null},"y":{"datum":1.2e-3,"type":"quantitative","scale":{"type":"log","domain":[4.1e-5,0.507],"range":[386.7,214.3],"nice":false},"axis":null}}},
{"data":{"values":[{}]},"mark":{"type":"text","text":["Orbit 10411","MJD 57996.46"],"fontSize":15.5,"lineHeight":20,"align":"left","baseline":"middle"},"encoding":{"x":{"datum":0.1545,"type":"quantitative","scale":{"type":"log","domain":[0.1,500],"range":[98.3,341.3],"nice":false},"axis":null},"y":{"datum":3.66e-4,"type":"quantitative","scale":{"type":"log","domain":[4.1e-5,0.507],"range":[386.7,214.3],"nice":false},"axis":null}}},
{"data":{"name":"d3"},"transform":[{"filter":"datum.f >= 40 && datum.f <= 100"}],"mark":{"type":"tick","orient":"vertical","size":9,"thickness":1.3,"color":"#ff0000","opacity":0.55},"encoding":{"x":{"field":"f","type":"quantitative","scale":{"type":"linear","domain":[40,100],"range":[236.7,321.7],"nice":false,"zero":false},"axis":{"orient":"bottom","offset":-161.7,"values":[50,100],"tickSize":4,"labelFontSize":16.5,"labelPadding":2,"title":null}},"y":{"field":"p","type":"quantitative","scale":{"type":"log","domain":[5.8e-5,2.05e-4],"range":[288.3,227.3],"nice":false},"axis":{"orient":"left","offset":-236.7,"values":[2e-4,7e-5],"labelExpr":"datum.value > 1.2e-4 ? '2× 10⁻⁴' : '7× 10⁻⁵'","tickSize":5,"labelFontSize":16.5,"labelPadding":2,"title":null}}}},
{"data":{"name":"d3"},"transform":[{"filter":"datum.f >= 40 && datum.f <= 100"}],"mark":{"type":"circle","size":15,"color":"#ff0000","opacity":0.75},"encoding":{"x":{"field":"f","type":"quantitative","scale":{"type":"linear","domain":[40,100],"range":[236.7,321.7],"nice":false,"zero":false},"axis":{"orient":"top","offset":-227.3,"ticks":false,"labels":false,"title":null}},"y":{"field":"p","type":"quantitative","scale":{"type":"log","domain":[5.8e-5,2.05e-4],"range":[288.3,227.3],"nice":false},"axis":{"orient":"left","offset":-236.7,"values":[6e-5,8e-5,9e-5],"labels":false,"domain":false,"tickSize":3,"title":null}}}},
{"data":{"name":"m3"},"transform":[{"filter":"datum.f >= 40 && datum.f <= 100"}],"mark":{"type":"line","color":"black","strokeWidth":2.2},"encoding":{"x":{"field":"f","type":"quantitative","scale":{"type":"linear","domain":[40,100],"range":[236.7,321.7],"nice":false,"zero":false},"axis":null},"y":{"field":"p","type":"quantitative","scale":{"type":"log","domain":[5.8e-5,2.05e-4],"range":[288.3,227.3],"nice":false},"axis":{"orient":"right","offset":-322.3,"ticks":false,"labels":false,"title":null}}}},

{"data":{"name":"d4"},"mark":{"type":"tick","orient":"vertical","size":9,"thickness":1.3,"color":"#ff0000","opacity":0.55},"encoding":{"x":{"field":"f","type":"quantitative","scale":{"type":"log","domain":[0.1,500],"range":[402.3,645.3],"nice":false},"axis":{"orient":"bottom","offset":-63.3,"values":[0.1,1,10,100],"format":"~g","tickSize":-8,"labelPadding":12,"title":null}},"y":{"field":"p","type":"quantitative","scale":{"type":"log","domain":[2.77e-5,0.266],"range":[386.7,214.3],"nice":false},"axis":{"orient":"left","offset":-402.3,"values":[0.1,0.001],"labelExpr":"datum.value > 0.01 ? '10⁻¹' : '10⁻³'","labelFontSize":17.5,"tickSize":-9,"labelPadding":12,"title":null}}}},
{"data":{"name":"d4"},"mark":{"type":"circle","size":15,"color":"#ff0000","opacity":0.75},"encoding":{"x":{"field":"f","type":"quantitative","scale":{"type":"log","domain":[0.1,500],"range":[402.3,645.3],"nice":false},"axis":{"orient":"bottom","offset":-63.3,"values":[0.2,0.3,0.4,0.5,0.6,0.7,0.8,0.9,2,3,4,5,6,7,8,9,20,30,40,50,60,70,80,90,200,300,400,500],"labels":false,"domain":false,"tickSize":-4.5,"title":null}},"y":{"field":"p","type":"quantitative","scale":{"type":"log","domain":[2.77e-5,0.266],"range":[386.7,214.3],"nice":false},"axis":null}}},
{"data":{"name":"m4"},"mark":{"type":"line","color":"black","strokeWidth":2},"encoding":{"x":{"field":"f","type":"quantitative","scale":{"type":"log","domain":[0.1,500],"range":[402.3,645.3],"nice":false},"axis":{"orient":"top","offset":-214.3,"ticks":false,"labels":false,"title":null}},"y":{"field":"p","type":"quantitative","scale":{"type":"log","domain":[2.77e-5,0.266],"range":[386.7,214.3],"nice":false},"axis":null}}},
{"data":{"values":[{}]},"mark":{"type":"rect","fillOpacity":0,"stroke":"#888888","strokeWidth":2},"encoding":{"x":{"datum":40,"type":"quantitative","scale":{"type":"log","domain":[0.1,500],"range":[402.3,645.3],"nice":false},"axis":null},"x2":{"datum":100},"y":{"datum":4.25e-5,"type":"quantitative","scale":{"type":"log","domain":[2.77e-5,0.266],"range":[386.7,214.3],"nice":false},"axis":null},"y2":{"datum":2.65e-4}}},
{"data":{"name":"c4"},"mark":{"type":"rule","color":"#808080","strokeWidth":1},"encoding":{"x":{"field":"fa","type":"quantitative","scale":{"type":"log","domain":[0.1,500],"range":[402.3,645.3],"nice":false},"axis":null},"x2":{"field":"fb"},"y":{"field":"pa","type":"quantitative","scale":{"type":"log","domain":[2.77e-5,0.266],"range":[386.7,214.3],"nice":false},"axis":null},"y2":{"field":"pb"}}},
{"data":{"values":[{}]},"mark":{"type":"text","text":"γ","fontSize":19.5,"fontStyle":"italic","align":"left","baseline":"middle"},"encoding":{"x":{"datum":0.197,"type":"quantitative","scale":{"type":"log","domain":[0.1,500],"range":[402.3,645.3],"nice":false},"axis":null},"y":{"datum":5.66e-4,"type":"quantitative","scale":{"type":"log","domain":[2.77e-5,0.266],"range":[386.7,214.3],"nice":false},"axis":null}}},
{"data":{"values":[{}]},"mark":{"type":"text","text":"Class","fontSize":19.5,"dx":18.5,"align":"left","baseline":"middle"},"encoding":{"x":{"datum":0.197,"type":"quantitative","scale":{"type":"log","domain":[0.1,500],"range":[402.3,645.3],"nice":false},"axis":null},"y":{"datum":5.66e-4,"type":"quantitative","scale":{"type":"log","domain":[2.77e-5,0.266],"range":[386.7,214.3],"nice":false},"axis":null}}},
{"data":{"values":[{}]},"mark":{"type":"text","text":["Orbit 10583","MJD 58008.08"],"fontSize":15.5,"lineHeight":18.5,"align":"left","baseline":"middle"},"encoding":{"x":{"datum":0.2016,"type":"quantitative","scale":{"type":"log","domain":[0.1,500],"range":[402.3,645.3],"nice":false},"axis":null},"y":{"datum":1.64e-4,"type":"quantitative","scale":{"type":"log","domain":[2.77e-5,0.266],"range":[386.7,214.3],"nice":false},"axis":null}}},
{"data":{"name":"d4"},"transform":[{"filter":"datum.f >= 40 && datum.f <= 100"}],"mark":{"type":"tick","orient":"vertical","size":9,"thickness":1.3,"color":"#ff0000","opacity":0.55},"encoding":{"x":{"field":"f","type":"quantitative","scale":{"type":"linear","domain":[40,100],"range":[540.7,625],"nice":false,"zero":false},"axis":{"orient":"bottom","offset":-161.7,"values":[50,100],"tickSize":4,"labelFontSize":16.5,"labelPadding":2,"title":null}},"y":{"field":"p","type":"quantitative","scale":{"type":"log","domain":[4.25e-5,2.65e-4],"range":[288.3,227.3],"nice":false},"axis":{"orient":"left","offset":-540.7,"values":[2e-4,7e-5],"labelExpr":"datum.value > 1.2e-4 ? '2× 10⁻⁴' : '7× 10⁻⁵'","tickSize":5,"labelFontSize":16.5,"labelPadding":2,"title":null}}}},
{"data":{"name":"d4"},"transform":[{"filter":"datum.f >= 40 && datum.f <= 100"}],"mark":{"type":"circle","size":15,"color":"#ff0000","opacity":0.75},"encoding":{"x":{"field":"f","type":"quantitative","scale":{"type":"linear","domain":[40,100],"range":[540.7,625],"nice":false,"zero":false},"axis":{"orient":"top","offset":-227.3,"ticks":false,"labels":false,"title":null}},"y":{"field":"p","type":"quantitative","scale":{"type":"log","domain":[4.25e-5,2.65e-4],"range":[288.3,227.3],"nice":false},"axis":{"orient":"left","offset":-540.7,"values":[5e-5,6e-5,8e-5,9e-5],"labels":false,"domain":false,"tickSize":3,"title":null}}}},
{"data":{"name":"m4"},"transform":[{"filter":"datum.f >= 40 && datum.f <= 100"}],"mark":{"type":"line","color":"black","strokeWidth":2.2},"encoding":{"x":{"field":"f","type":"quantitative","scale":{"type":"linear","domain":[40,100],"range":[540.7,625],"nice":false,"zero":false},"axis":null},"y":{"field":"p","type":"quantitative","scale":{"type":"log","domain":[4.25e-5,2.65e-4],"range":[288.3,227.3],"nice":false},"axis":{"orient":"right","offset":-19,"ticks":false,"labels":false,"title":null}}}}
]
}
